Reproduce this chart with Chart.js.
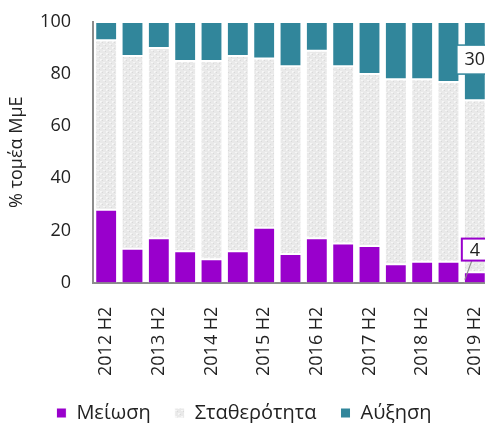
<!DOCTYPE html>
<html>
<head>
<meta charset="utf-8">
<script src="https://cdn.jsdelivr.net/npm/chart.js@4.4.1/dist/chart.umd.min.js"></script>
<style>
  html, body { margin: 0; padding: 0; background: #fff; overflow: hidden; }
  #wrap { width: 488px; height: 423px; }
</style>
</head>
<body>
<div id="wrap"><canvas id="chart" width="488" height="423"></canvas></div>
<script>
// periods (every other one is labelled on the axis)
var periods = ['2012 H2', '2013 H1', '2013 H2', '2014 H1', '2014 H2', '2015 H1', '2015 H2',
               '2016 H1', '2016 H2', '2017 H1', '2017 H2', '2018 H1', '2018 H2', '2019 H1', '2019 H2'];

var decrease = [28, 13, 17, 12, 9, 12, 21, 11, 17, 15, 14, 7, 8, 8, 4];
var increase = [7, 13, 10, 15, 15, 13, 14, 17, 11, 17, 20, 22, 22, 23, 30];
var stable = [];
for (var i = 0; i < periods.length; i++) {
    stable.push(100 - decrease[i] - increase[i]);
}

var yTicks = [0, 20, 40, 60, 80, 100];

var purple = '#9900cc';
var teal = '#31869b';

// light grey cross-hatch like the excel fill
function makePattern() {
    var c = document.createElement('canvas');
    c.width = 6;
    c.height = 6;
    var g = c.getContext('2d');
    g.fillStyle = '#e9e9e9';
    g.fillRect(0, 0, 6, 6);
    g.fillStyle = '#d9d9d9';
    g.fillRect(0, 0, 1, 1);
    g.fillRect(3, 3, 1, 1);
    g.fillStyle = '#f6f6f6';
    g.fillRect(1, 2, 2, 1);
    g.fillRect(4, 5, 2, 1);
    g.fillRect(4, 0, 1, 1);
    return g.createPattern(c, 'repeat');
}
var grey = makePattern();

// boxed labels on the last bar
var lastLabels = {
    id: 'lastLabels',
    afterDatasetsDraw: function (chart) {
        var ctx = chart.ctx;
        var n = periods.length - 1;
        var barDec = chart.getDatasetMeta(0).data[n];
        var barInc = chart.getDatasetMeta(2).data[n];
        ctx.save();
        ctx.font = '18px "Open Sans"';
        ctx.textAlign = 'center';
        ctx.textBaseline = 'middle';

        // increase label, middle of segment
        var cy = (barInc.y + barInc.base) / 2 - 2;
        ctx.fillStyle = '#fff';
        ctx.fillRect(barInc.x - 18, cy - 14, 36, 29);
        ctx.strokeStyle = teal;
        ctx.lineWidth = 1.5;
        ctx.strokeRect(barInc.x - 18, cy - 14, 36, 29);
        ctx.fillStyle = '#222';
        ctx.fillText(String(increase[n]), barInc.x, cy + 1);

        // decrease label, above the bar with leader line
        var by = barDec.base - 33;
        ctx.strokeStyle = '#8c8c8c';
        ctx.lineWidth = 1.2;
        ctx.beginPath();
        ctx.moveTo(barDec.x - 3, by + 11);
        ctx.lineTo(barDec.x - barDec.width / 2 + 1, barDec.base - 3);
        ctx.stroke();
        ctx.fillStyle = '#fff';
        ctx.fillRect(barDec.x - 13, by - 11, 26, 22);
        ctx.strokeStyle = purple;
        ctx.lineWidth = 2;
        ctx.strokeRect(barDec.x - 13, by - 11, 26, 22);
        ctx.fillStyle = '#222';
        ctx.fillText(String(decrease[n]), barDec.x, by + 1);
        ctx.restore();
    }
};

var ctx = document.getElementById('chart');

var chart = new Chart(ctx, {
    type: 'bar',
    data: {
        labels: periods,
        datasets: [
            {
                label: 'Μείωση',
                data: decrease,
                backgroundColor: purple,
                borderColor: '#fff',
                borderWidth: 1,
                borderSkipped: 'bottom'
            },
            {
                label: 'Σταθερότητα',
                data: stable,
                backgroundColor: grey,
                borderColor: '#fff',
                borderWidth: 1,
                borderSkipped: false
            },
            {
                label: 'Αύξηση',
                data: increase,
                backgroundColor: teal,
                borderColor: '#fff',
                borderWidth: 1,
                borderSkipped: false
            }
        ]
    },
    options: {
        responsive: false,
        animation: false,
        events: [],
        layout: { padding: { top: 22, left: 0, right: 0, bottom: -10 } },
        datasets: { bar: { categoryPercentage: 1, barPercentage: 0.83 } },
        scales: {
            x: {
                stacked: true,
                afterFit: function (s) {
                    s.paddingLeft = 0;
                    s.paddingRight = 0;
                    s.height = s.height - 13;
                },
                grid: { display: false },
                border: { display: true, color: '#8c8c8c', width: 2 },
                ticks: {
                    autoSkip: false,
                    minRotation: 90,
                    maxRotation: 90,
                    padding: 16,
                    color: '#222',
                    font: { family: 'Open Sans', size: 18 },
                    callback: function (v, idx) {
                        return idx % 2 === 0 ? periods[idx] : '';
                    }
                }
            },
            y: {
                stacked: true,
                min: 0,
                max: 100,
                afterFit: function (s) { s.width = 93; s.paddingTop = 0; s.paddingBottom = 0; },
                afterBuildTicks: function (s) {
                    s.ticks = yTicks.map(function (v) { return { value: v }; });
                },
                grid: { display: false },
                border: { display: true, color: '#8c8c8c', width: 2 },
                ticks: {
                    padding: 14,
                    color: '#222',
                    font: { family: 'Open Sans', size: 18 }
                },
                title: {
                    display: true,
                    text: '% τομέα ΜμΕ',
                    color: '#222',
                    padding: { top: 6, bottom: 0 },
                    font: { family: 'Open Sans', size: 18 }
                }
            }
        },
        plugins: {
            legend: {
                position: 'bottom',
                labels: {
                    boxWidth: 10,
                    boxHeight: 10,
                    padding: 24,
                    color: '#222',
                    font: { family: 'Open Sans', size: 20 }
                }
            },
            tooltip: { enabled: false }
        }
    },
    plugins: [lastLabels]
});
</script>
</body>
</html>
